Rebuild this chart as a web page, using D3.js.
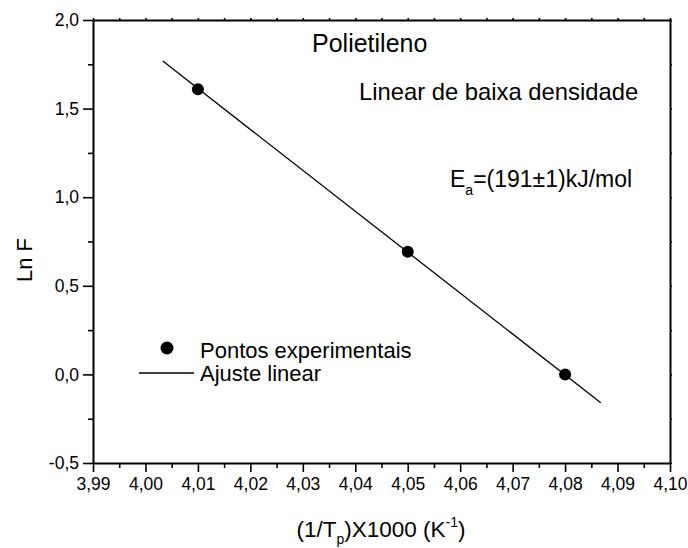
<!DOCTYPE html>
<html>
<head>
<meta charset="utf-8">
<script src="https://cdn.jsdelivr.net/npm/d3@7"></script>
<style>
  body { margin: 0; background: #fff; }
  text { font-family: "Liberation Sans", Arial, sans-serif; fill: #000; }
</style>
</head>
<body>
<div class="chart"></div>
<script>
// data
var pointX = [4.01, 4.05, 4.08];
var pointY = [1.609, 0.692, 0.0];
var fitX = [4.0033, 4.0868];
var fitY = [1.768, -0.160];

var xTicks = [3.99, 4.00, 4.01, 4.02, 4.03, 4.04, 4.05, 4.06, 4.07, 4.08, 4.09, 4.10];
var yTicks = [-0.5, 0.0, 0.5, 1.0, 1.5, 2.0];

var svgWidth = 688;
var svgHeight = 548;
var margin = {top: 20, right: 18, bottom: 85, left: 93};
var width = svgWidth - margin.left - margin.right;
var height = svgHeight - margin.top - margin.bottom;

var ptBR = d3.formatLocale({decimal: ",", thousands: ".", grouping: [3], currency: ["", ""], minus: "-"});
var fmtX = ptBR.format(".2f");
var fmtY = ptBR.format(".1f");

var svg = d3.select(".chart")
  .append("svg")
  .attr("width", svgWidth)
  .attr("height", svgHeight);

var chartGroup = svg.append("g")
  .attr("transform", `translate(${margin.left},${margin.top})`);

var x = d3.scaleLinear().domain([3.99, 4.10]).range([0, width]);
var y = d3.scaleLinear().domain([-0.5, 2.0]).range([height, 0]);

// minor ticks halfway between majors
var xMinor = xTicks.slice(1).map((d, i) => (d + xTicks[i]) / 2);
var yMinor = yTicks.slice(1).map((d, i) => (d + yTicks[i]) / 2);

function styleAxis(g) {
  g.selectAll("path").attr("stroke", "#000").attr("stroke-width", 2);
  g.selectAll("line").attr("stroke", "#000").attr("stroke-width", 1.6);
  g.selectAll("text").attr("font-size", 17.5).attr("fill", "#000");
}

// minor ticks first (no labels, no domain)
chartGroup.append("g")
  .attr("transform", `translate(0,${height})`)
  .call(d3.axisBottom(x).tickValues(xMinor).tickSize(5).tickFormat(""))
  .call(g => g.select(".domain").remove())
  .call(styleAxis);
chartGroup.append("g")
  .call(d3.axisLeft(y).tickValues(yMinor).tickSize(5).tickFormat(""))
  .call(g => g.select(".domain").remove())
  .call(styleAxis);

// top and right: tiny ticks
chartGroup.append("g")
  .call(d3.axisTop(x).tickValues(xTicks.concat(xMinor)).tickSize(2).tickSizeOuter(0).tickFormat(""))
  .call(styleAxis);
chartGroup.append("g")
  .attr("transform", `translate(${width},0)`)
  .call(d3.axisRight(y).tickValues(yTicks.concat(yMinor)).tickSize(2).tickSizeOuter(0).tickFormat(""))
  .call(styleAxis);

// major axes
chartGroup.append("g")
  .attr("transform", `translate(0,${height})`)
  .call(d3.axisBottom(x).tickValues(xTicks).tickSize(9).tickSizeOuter(0).tickPadding(6).tickFormat(fmtX))
  .call(styleAxis);
chartGroup.append("g")
  .call(d3.axisLeft(y).tickValues(yTicks).tickSize(10).tickSizeOuter(0).tickPadding(4).tickFormat(fmtY))
  .call(styleAxis);

// fit line
var fitData = fitX.map((d, i) => ({x: d, y: fitY[i]}));
chartGroup.append("path")
  .datum(fitData)
  .attr("fill", "none")
  .attr("stroke", "#000")
  .attr("stroke-width", 1.3)
  .attr("d", d3.line().x(d => x(d.x)).y(d => y(d.y)));

// experimental points
var points = pointX.map((d, i) => ({x: d, y: pointY[i]}));
chartGroup.selectAll("circle.pt")
  .data(points)
  .enter()
  .append("circle")
  .attr("class", "pt")
  .attr("cx", d => x(d.x))
  .attr("cy", d => y(d.y))
  .attr("r", 6)
  .attr("fill", "#000");

// annotations
svg.append("text")
  .attr("x", 312).attr("y", 52)
  .attr("font-size", 25)
  .text("Polietileno");

svg.append("text")
  .attr("x", 359).attr("y", 100)
  .attr("font-size", 23.8)
  .text("Linear de baixa densidade");

var ea = svg.append("text")
  .attr("x", 450).attr("y", 187)
  .attr("font-size", 23);
ea.append("tspan").text("E");
ea.append("tspan").attr("font-size", 14).attr("dy", 8).text("a");
ea.append("tspan").attr("dy", -8).text("=(191±1)kJ/mol");

// legend
svg.append("circle")
  .attr("cx", 167).attr("cy", 348).attr("r", 6.5).attr("fill", "#000");
svg.append("text")
  .attr("x", 200).attr("y", 358)
  .attr("font-size", 22)
  .text("Pontos experimentais");
svg.append("line")
  .attr("x1", 139).attr("x2", 194)
  .attr("y1", 373).attr("y2", 373)
  .attr("stroke", "#000").attr("stroke-width", 1.3);
svg.append("text")
  .attr("x", 200).attr("y", 381)
  .attr("font-size", 22)
  .text("Ajuste linear");

// axis labels
var xl = svg.append("text")
  .attr("x", 381).attr("y", 537)
  .attr("text-anchor", "middle")
  .attr("font-size", 22.5);
xl.append("tspan").text("(1/T");
xl.append("tspan").attr("font-size", 14).attr("dy", 7).text("p");
xl.append("tspan").attr("dy", -7).text(")X1000 (K");
xl.append("tspan").attr("font-size", 14).attr("dy", -10).text("-1");
xl.append("tspan").attr("dy", 10).text(")");

svg.append("text")
  .attr("transform", "translate(32,260) rotate(-90)")
  .attr("text-anchor", "middle")
  .attr("font-size", 22)
  .text("Ln F");
</script>
</body>
</html>
